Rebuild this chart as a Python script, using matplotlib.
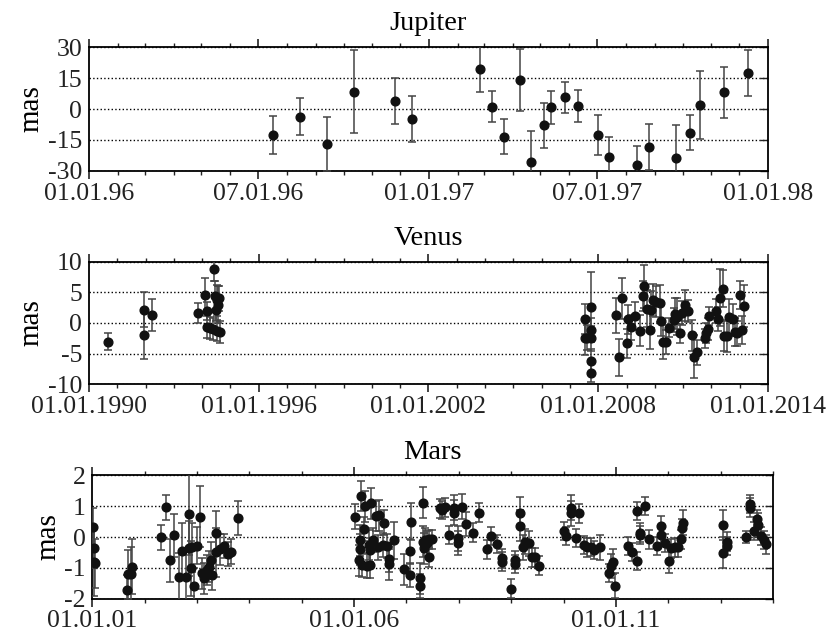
import numpy as np
import matplotlib
matplotlib.use('Agg')
import matplotlib.pyplot as plt
import matplotlib.dates as mdates
from datetime import datetime, timedelta

plt.rcParams['font.family'] = ['Liberation Serif', 'DejaVu Serif']
plt.rcParams['axes.unicode_minus'] = False

# Jupiter (decimal years, mas, error)
jup_t = [1996.54, 1996.62, 1996.70, 1996.78, 1996.90, 1996.95, 1997.15, 1997.185,
         1997.22, 1997.27, 1997.30, 1997.34, 1997.36, 1997.40, 1997.44, 1997.50,
         1997.53, 1997.615, 1997.65, 1997.73, 1997.77, 1997.80, 1997.87, 1997.94]
jup_v = [-12.6, -3.7, -17.0, 8.4, 3.9, -4.8, 19.4, 1.1, -13.5, 14.0, -25.5, -7.9,
         0.8, 5.7, 1.3, -12.6, -23.2, -27.3, -18.4, -23.6, -11.5, 1.9, 8.1, 17.4]
jup_e = [9, 9, 13, 20, 11, 11, 11, 7.5, 8.5, 15, 15, 11,
         8, 7.5, 7.8, 9.5, 9.5, 9.5, 11, 16, 8.5, 16.5, 12.3, 11]

# Venus
ven_t = [1990.68, 1991.96, 1991.96, 1992.24, 1993.85, 1994.09, 1994.18, 1994.18, 1994.27,
         1994.37, 1994.41, 1994.45, 1994.48, 1994.51, 1994.53, 1994.57, 1994.60, 1994.62,
         2007.52, 2007.52, 2007.61, 2007.76, 2007.76, 2007.76, 2007.76, 2007.76,
         2008.64, 2008.75, 2008.85,
         2009.0, 2009.06, 2009.15, 2009.3, 2009.49, 2009.57, 2009.63, 2009.73, 2009.83, 2009.88, 2009.94,
         2010.04, 2010.17, 2010.23, 2010.30, 2010.41, 2010.51, 2010.67, 2010.71, 2010.79, 2010.88, 2010.97,
         2011.08, 2011.17, 2011.32, 2011.40, 2011.50, 2011.76, 2011.82, 2011.88, 2011.93,
         2012.17, 2012.22, 2012.29, 2012.41, 2012.43, 2012.56, 2012.61, 2012.77, 2012.82, 2012.89,
         2013.01, 2013.09, 2013.16]
ven_v = [-3.04, 2.2, -1.95, 1.26, 1.6, 4.57, 2.0, -0.7, -0.86,
         -1.0, 8.86, 4.4, 2.1, -1.25, 3.7, 3.0, 4.0, -1.5,
         0.66, -2.4, -2.4, 2.66, -1.15, -2.5, -6.2, -8.1,
         1.26, -5.6, 4.0,
         -3.3, 0.6, -0.7, 1.15, -1.25, 4.4, 6.0, 2.35, -1.2, 2.2, 3.7,
         3.5, 3.2, 0.38, -3.1, -3.1, -0.76, 0.5, 1.5, 1.03, -1.7, 1.6,
         2.9, 2.0, -2.0, -5.5, -4.8, -2.5, -1.6, -1.0, 1.15,
         1.96, 0.66, 4.13, 5.6, -2.1, -2.1, 0.93, 0.66, -1.5, -1.7,
         4.6, -1.15, 2.8]
ven_e = [1.4, 2.85, 4.0, 2.6, 1.6, 2.7, 1.5, 1.8, 1.8,
         1.8, 2.0, 2.5, 1.8, 1.7, 2.5, 3.0, 2.0, 1.8,
         2.5, 2.8, 2.0, 5.6, 2.0, 2.0, 2.0, 1.5,
         2.85, 3.0, 3.3,
         2.4, 2.4, 2.0, 2.3, 2.5, 2.5, 3.5, 3.0, 3.0, 3.0, 2.6,
         2.5, 3.0, 2.5, 2.8, 2.0, 1.6, 2.0, 2.5, 3.0, 1.5, 2.0,
         2.5, 1.8, 2.5, 3.5, 2.0, 1.5, 1.6, 1.8, 1.5,
         2.0, 2.0, 4.7, 3.0, 2.5, 2.6, 3.0, 2.5, 2.3, 2.0,
         2.3, 2.3, 3.4]

# Mars
mars_t = [2001.02, 2001.04, 2001.03, 2001.06,
          2001.66, 2001.69, 2001.74, 2001.75,
          2002.31, 2002.41, 2002.49, 2002.56, 2002.66, 2002.71, 2002.79, 2002.84, 2002.84,
          2002.89, 2002.91, 2002.95, 2003.0, 2003.06, 2003.09, 2003.14, 2003.19, 2003.23,
          2003.27, 2003.28, 2003.36, 2003.37, 2003.44, 2003.52, 2003.59, 2003.65, 2003.78,
          2006.02, 2006.09, 2006.11, 2006.12, 2006.14, 2006.16, 2006.18, 2006.20, 2006.25,
          2006.29, 2006.31, 2006.31, 2006.33, 2006.37, 2006.41, 2006.46, 2006.48, 2006.55,
          2006.58, 2006.63, 2006.67, 2006.67, 2006.76, 2006.96, 2007.06, 2007.06, 2007.08,
          2007.25, 2007.25, 2007.32, 2007.32, 2007.33, 2007.36, 2007.39, 2007.43, 2007.44,
          2007.48, 2007.65, 2007.68, 2007.74, 2007.81, 2007.90, 2007.90, 2007.99, 2007.99,
          2008.06, 2008.14, 2008.28, 2008.38, 2008.54, 2008.62, 2008.73, 2008.83, 2008.83,
          2008.99, 2009.08, 2009.08, 2009.16, 2009.16, 2009.22, 2009.27, 2009.33, 2009.39,
          2009.46, 2009.53,
          2010.0, 2010.05, 2010.15, 2010.15, 2010.23, 2010.29, 2010.39, 2010.45, 2010.52,
          2010.58, 2010.69, 2010.87, 2010.91, 2010.95, 2010.99,
          2011.24, 2011.31, 2011.40, 2011.40, 2011.47, 2011.47, 2011.55, 2011.63, 2011.78,
          2011.86, 2011.86, 2011.93, 2012.01, 2012.05, 2012.12, 2012.19, 2012.24, 2012.27,
          2012.29,
          2013.05, 2013.05, 2013.12, 2013.12, 2013.48, 2013.56, 2013.56, 2013.64, 2013.70,
          2013.72, 2013.77, 2013.82, 2013.86]
mars_v = [0.33, -0.35, -0.8, -0.85,
          -1.72, -1.21, -1.21, -0.96,
          -0.01, 0.96, -0.75, 0.06, -1.31, -0.46, -1.29, 0.73, -0.37,
          -1.02, -0.34, -1.59, -0.29, 0.66, -1.18, -1.34, -1.07, -0.96,
          -0.75, -1.23, 0.14, -0.5, -0.4, -0.29, -0.55, -0.48, 0.62,
          0.66, -0.75, -0.4, -0.1, 1.33, -0.91, 0.26, 1.0, -0.94,
          -0.26, -0.92, -0.42, 1.09, -0.1, 0.68, -0.34, 0.71, -0.26,
          0.46, -0.29, -0.72, -0.88, -0.1, -1.05, -1.23, -0.46, 0.5,
          -1.34, -1.59, 1.11, -0.15, -0.37, -0.1, -0.21, -0.08, -0.66,
          -0.08, 0.93, 0.87, 0.96, 0.06, 0.79, 0.95, -0.04, -0.19,
          0.98, 0.42, 0.14, 0.79, -0.4, 0.04, -0.23, -0.69, -0.8,
          -1.67, -0.75, -0.88, 0.79, 0.36, -0.34, -0.15, -0.21, -0.66,
          -0.66, -0.93,
          0.19, 0.03, 0.77, 0.95, -0.04, 0.77, -0.26, -0.34, -0.32,
          -0.42, -0.34, -1.16, -0.94, -0.8, -1.58,
          -0.29, -0.48, -0.77, 0.85, 0.14, 0.07, 1.0, -0.08, -0.29,
          0.37, 0.06, -0.19, -0.77, -0.37, -0.34, -0.34, -0.08, 0.28,
          0.46,
          0.39, -0.51, -0.15, -0.29, 0.01, 1.07, 0.95, 0.2, 0.57,
          0.39, 0.03, -0.1, -0.24]
mars_e = [0.6, 0.65, 1.1, 0.8,
          0.5, 0.8, 0.9, 0.9,
          0.4, 0.4, 0.7, 0.7, 0.8, 0.9, 0.8, 1.3, 0.9,
          0.9, 0.8, 0.6, 0.6, 1.0, 0.5, 0.5, 0.5, 0.5,
          0.6, 0.5, 0.7, 0.8, 0.5, 0.4, 0.4, 0.4, 0.55,
          0.4, 0.5, 0.5, 0.5, 0.5, 0.4, 0.4, 0.5, 0.4,
          0.5, 0.4, 0.4, 0.5, 0.4, 0.5, 0.4, 0.5, 0.4,
          0.4, 0.4, 0.4, 0.5, 0.6, 0.5, 0.4, 0.4, 0.6,
          0.5, 0.4, 0.5, 0.5, 0.5, 0.4, 0.4, 0.3, 0.3,
          0.3, 0.3, 0.3, 0.3, 0.3, 0.4, 0.4, 0.4, 0.4,
          0.4, 0.4, 0.3, 0.3, 0.3, 0.3, 0.3, 0.3, 0.3,
          0.3, 0.3, 0.3, 0.5, 0.5, 0.4, 0.4, 0.4, 0.3,
          0.3, 0.3,
          0.3, 0.3, 0.4, 0.4, 0.3, 0.3, 0.3, 0.3, 0.3,
          0.3, 0.4, 0.3, 0.4, 0.4, 0.4,
          0.3, 0.3, 0.3, 0.3, 0.3, 0.3, 0.3, 0.3, 0.3,
          0.3, 0.3, 0.3, 0.4, 0.3, 0.3, 0.3, 0.3, 0.3,
          0.4,
          0.5, 0.5, 0.3, 0.3, 0.2, 0.3, 0.3, 0.3, 0.3,
          0.4, 0.3, 0.3, 0.3]


def to_dates(years):
    out = []
    for y in years:
        yr = int(y)
        start = datetime(yr, 1, 1)
        n = (datetime(yr + 1, 1, 1) - start).days
        out.append(start + timedelta(days=(y - yr) * n))
    return out


def draw(ax, t, v, e, title, ylim, yticks, xlim, xticks, fmt):
    ax.yaxis.grid(True, linestyle=':', color='k', lw=1)
    ax.set_axisbelow(True)
    eb = ax.errorbar(to_dates(t), v, yerr=e, fmt='o', ms=6.3, mfc='#111', mec='#111',
                     ecolor='#444', elinewidth=1.1, capsize=3, capthick=1.1, zorder=3)
    for cap in eb[1]:
        cap.set_color('#111')
    ax.set_ylim(*ylim)
    ax.set_yticks(yticks)
    ax.set_xlim(datetime(xlim[0], 1, 1), datetime(xlim[1], 1, 1))
    ax.set_xticks(xticks)
    ax.xaxis.set_major_formatter(mdates.DateFormatter(fmt))
    ax.set_title(title, fontsize=20.5, pad=12)
    ax.set_ylabel('mas', fontsize=21, labelpad=2)
    for s in ax.spines.values():
        s.set_linewidth(1.3)
    ax.tick_params(axis='x', which='both', direction='out', top=True, bottom=True,
                   labelsize=18.5, pad=2.5, colors='#222')
    ax.tick_params(axis='x', which='major', length=6, width=1.2)
    ax.tick_params(axis='x', which='minor', length=3, width=1)
    ax.tick_params(axis='y', left=False, right=True, labelleft=True, direction='in',
                   length=5.5, width=1, labelsize=18.5, pad=5, colors='#222')


fig = plt.figure(figsize=(8.28, 6.33), dpi=100)
ax1 = fig.add_axes([0.1075, 0.7299, 0.82, 0.1958])
ax2 = fig.add_axes([0.1075, 0.3929, 0.82, 0.1937])
ax3 = fig.add_axes([0.1115, 0.0542, 0.8221, 0.1949])

draw(ax1, jup_t, jup_v, jup_e, 'Jupiter', (-30, 30), [-30, -15, 0, 15, 30],
     (1996, 1998), [datetime(1996, 1, 1), datetime(1996, 7, 1), datetime(1997, 1, 1),
                    datetime(1997, 7, 1), datetime(1998, 1, 1)], '%m.%d.%y')
ax1.xaxis.set_minor_locator(mdates.MonthLocator())

draw(ax2, ven_t, ven_v, ven_e, 'Venus', (-10, 10), [-10, -5, 0, 5, 10],
     (1990, 2014), [datetime(y, 1, 1) for y in range(1990, 2015, 6)], '%m.%d.%Y')
ax2.xaxis.set_minor_locator(mdates.YearLocator(1))

draw(ax3, mars_t, mars_v, mars_e, 'Mars', (-2, 2), [-2, -1, 0, 1, 2],
     (2001, 2014), [datetime(y, 1, 1) for y in (2001, 2006, 2011)], '%m.%d.%y')
ax3.xaxis.set_minor_locator(mdates.YearLocator(1))

fig.savefig('out.png', dpi=100)
